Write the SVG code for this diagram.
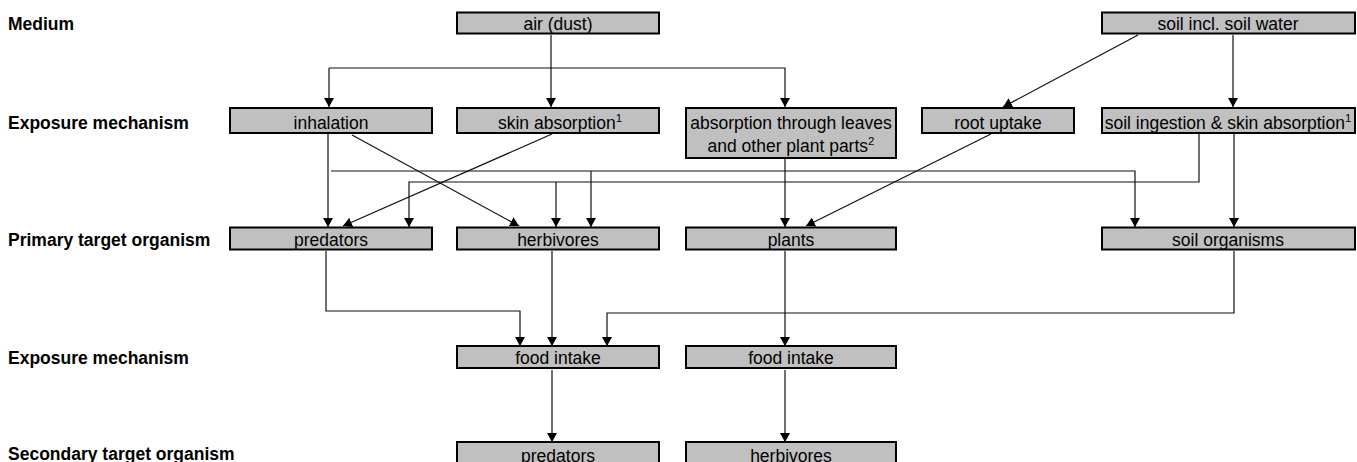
<svg xmlns="http://www.w3.org/2000/svg" width="1357" height="462" viewBox="0 0 1357 462">
<style>
.lbl{font-family:"Liberation Sans",Arial,sans-serif;font-weight:bold;font-size:17.5px;fill:#000}
.box rect{fill:#c0c0c0;stroke:#000;stroke-width:2}
.box text{font-family:"Liberation Sans",Arial,sans-serif;font-size:17.5px;fill:#000;text-anchor:middle}
.sup{font-size:11.5px}
#connectors path{fill:none;stroke:#111;stroke-width:1.2}
</style>
<defs>
<marker id="ah" viewBox="0 0 9 10" refX="9" refY="5" markerWidth="9" markerHeight="10" markerUnits="userSpaceOnUse" orient="auto">
<path d="M0,0 L9,5 L0,10 z" fill="#000"/>
</marker>
</defs>
<rect width="1357" height="462" fill="#fff"/>
<g id="labels">
<text class="lbl" x="8" y="30">Medium</text>
<text class="lbl" x="8" y="129">Exposure mechanism</text>
<text class="lbl" x="8" y="246">Primary target organism</text>
<text class="lbl" x="8" y="364">Exposure mechanism</text>
<text class="lbl" x="8" y="460">Secondary target organism</text>
</g>
<g id="connectors">
<path d="M551,35 V107" marker-end="url(#ah)"/>
<path d="M329,68 V107" marker-end="url(#ah)"/>
<path d="M329,68 H785 V107" marker-end="url(#ah)"/>
<path d="M1138,35 L1003,107" marker-end="url(#ah)"/>
<path d="M1233,35 V107" marker-end="url(#ah)"/>
<path d="M328,134 V227" marker-end="url(#ah)"/>
<path d="M352,135 L519,226" marker-end="url(#ah)"/>
<path d="M552,134 L343,226" marker-end="url(#ah)"/>
<path d="M331,171 H1135 V227" marker-end="url(#ah)"/>
<path d="M591,171 V227" marker-end="url(#ah)"/>
<path d="M1199,134 V182 H409 V227" marker-end="url(#ah)"/>
<path d="M556,182 V227" marker-end="url(#ah)"/>
<path d="M785,159 V227" marker-end="url(#ah)"/>
<path d="M991,134 L806,226" marker-end="url(#ah)"/>
<path d="M1234,134 V227" marker-end="url(#ah)"/>
<path d="M326,251 V311 H520 V346" marker-end="url(#ah)"/>
<path d="M552,251 V346" marker-end="url(#ah)"/>
<path d="M1234,251 V313 H607 V346" marker-end="url(#ah)"/>
<path d="M785,251 V346" marker-end="url(#ah)"/>
<path d="M552,370 V442" marker-end="url(#ah)"/>
<path d="M785,370 V442" marker-end="url(#ah)"/>
</g>
<g id="air" class="box"><rect x="457" y="12.5" width="202" height="21"/><text x="558" y="30">air (dust)</text></g>
<g id="soil" class="box"><rect x="1102" y="12.5" width="253" height="21"/><text x="1228" y="30">soil incl. soil water</text></g>
<g id="inhalation" class="box"><rect x="230" y="108" width="202" height="25"/><text x="331" y="129">inhalation</text></g>
<g id="skin-absorption" class="box"><rect x="457" y="108" width="202" height="25"/><text x="560" y="129">skin absorption<tspan class="sup" dy="-7">1</tspan></text></g>
<g id="leaf-absorption" class="box"><rect x="686" y="108" width="210" height="50"/><text x="791" y="129">absorption through leaves</text><text x="791" y="152">and other plant parts<tspan class="sup" dy="-7">2</tspan></text></g>
<g id="root-uptake" class="box"><rect x="922" y="108" width="152" height="25"/><text x="998" y="129">root uptake</text></g>
<g id="soil-ingestion" class="box"><rect x="1102" y="108" width="253" height="25"/><text x="1228" y="129">soil ingestion &amp; skin absorption<tspan class="sup" dy="-7">1</tspan></text></g>
<g id="predators1" class="box"><rect x="230" y="227.5" width="202" height="22"/><text x="331" y="246">predators</text></g>
<g id="herbivores1" class="box"><rect x="457" y="227.5" width="202" height="22"/><text x="558" y="246">herbivores</text></g>
<g id="plants" class="box"><rect x="686" y="227.5" width="210" height="22"/><text x="791" y="246">plants</text></g>
<g id="soil-organisms" class="box"><rect x="1102" y="227.5" width="253" height="22"/><text x="1228" y="246">soil organisms</text></g>
<g id="food-intake1" class="box"><rect x="457" y="346" width="202" height="22"/><text x="558" y="364">food intake</text></g>
<g id="food-intake2" class="box"><rect x="686" y="346" width="210" height="22"/><text x="791" y="364">food intake</text></g>
<g id="predators2" class="box"><rect x="457" y="442" width="202" height="22"/><text x="558" y="462">predators</text></g>
<g id="herbivores2" class="box"><rect x="686" y="442" width="210" height="22"/><text x="791" y="462">herbivores</text></g>
</svg>
